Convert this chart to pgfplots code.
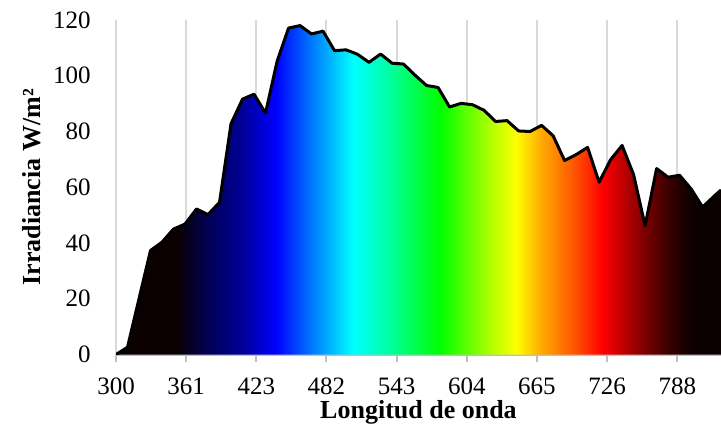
\documentclass[border=0pt]{standalone}
\usepackage{fontspec}
\setmainfont{Liberation Serif}
\usepackage{pgfplots}
\pgfplotsset{compat=1.18}
\definecolor{gridgray}{HTML}{D9D9D9}
\definecolor{axgray}{HTML}{BFBFBF}
\pgfdeclarehorizontalshading{spectrum}{100bp}{%
rgb(0bp)=(0.04,0,0);
rgb(25bp)=(0.04,0,0);
rgb(29.96bp)=(0.04,0,0);
rgb(33.26bp)=(0,0,0.40);
rgb(35.33bp)=(0,0,0.58);
rgb(38.22bp)=(0,0,1);
rgb(40.70bp)=(0,0.40,1);
rgb(44.59bp)=(0,1,1);
rgb(47.31bp)=(0,1,0.67);
rgb(51.78bp)=(0,1,0);
rgb(55.58bp)=(0.63,1,0);
rgb(58.06bp)=(1,1,0);
rgb(60.12bp)=(1,0.67,0);
rgb(63.02bp)=(1,0.31,0);
rgb(65.17bp)=(1,0,0);
rgb(66.65bp)=(0.78,0,0);
rgb(68.55bp)=(0.50,0,0);
rgb(70.54bp)=(0.24,0,0);
rgb(72.19bp)=(0.08,0,0);
rgb(73.00bp)=(0.04,0,0);
rgb(75bp)=(0.04,0,0);
rgb(100bp)=(0.04,0,0)}
\begin{document}
\begin{tikzpicture}
\begin{axis}[
  scale only axis,
  width=302.5pt, height=167.25pt,
  xmin=0, xmax=52.6, ymin=0, ymax=120,
  enlargelimits=false,
  axis y line*=left, axis x line*=bottom,
  y axis line style={draw=none},
  x axis line style={draw=axgray, line width=1pt},
  xtick={0,6.1,12.2,18.3,24.4,30.5,36.6,42.7,48.8},
  xticklabels={300,361,423,482,543,604,665,726,788},
  ytick={0,20,40,60,80,100,120},
  xmajorgrids,
  major grid style={draw=gridgray, line width=1pt},
  ytick style={draw=none},
  xtick style={draw=axgray, line width=1pt},
  xtick align=outside,
  major tick length=3.5pt,
  /pgf/number format/assume math mode=true,
  tick label style={font=\fontsize{12.5}{14}\selectfont},
  yticklabel style={anchor=east, inner sep=0pt, xshift=-12.5pt},
  xticklabel style={anchor=north, inner sep=0pt, yshift=-8pt},
  xlabel={Longitud de onda},
  ylabel={Irradiancia W/m²},
  label style={font=\fontsize{13}{15}\selectfont\bfseries},
  xlabel style={at={(axis description cs:0.5,0)}, anchor=north, inner sep=0pt, yshift=-23pt},
  ylabel style={at={([xshift=-42pt]axis description cs:0,0.5)}, anchor=center, inner sep=0pt},
  clip=true,
]
\addplot[draw=none, shade, shading=spectrum] coordinates {
(0,0) (1,2.6) (2,20) (3,37.3) (4,40.3) (5,45) (6,46.8) (7,52.2) (8,50.2) (9,54.6)
(10,82.8) (11,91.6) (12,93.4) (13,86.6) (14,105.1) (15,117.1) (16,118) (17,115) (18,116) (19,109)
(20,109.3) (21,107.7) (22,104.8) (23,107.8) (24,104.5) (25,104.2) (26,100.2) (27,96.5) (28,95.8) (29,88.8)
(30,90.1) (31,89.6) (32,87.6) (33,83.6) (34,83.9) (35,80.2) (36,80) (37,82.2) (38,78.5) (39,69.6)
(40,71.7) (41,74.3) (42,61.8) (43,69.9) (44,75) (45,64.5) (46,46.2) (47,66.7) (48,63.6) (49,64.3)
(50,59.4) (51,52.9) (52,56.8) (52.6,59)
} \closedcycle;
\addplot[black, line width=1.5pt, line join=round] coordinates {
(0,0) (1,2.6) (2,20) (3,37.3) (4,40.3) (5,45) (6,46.8) (7,52.2) (8,50.2) (9,54.6)
(10,82.8) (11,91.6) (12,93.4) (13,86.6) (14,105.1) (15,117.1) (16,118) (17,115) (18,116) (19,109)
(20,109.3) (21,107.7) (22,104.8) (23,107.8) (24,104.5) (25,104.2) (26,100.2) (27,96.5) (28,95.8) (29,88.8)
(30,90.1) (31,89.6) (32,87.6) (33,83.6) (34,83.9) (35,80.2) (36,80) (37,82.2) (38,78.5) (39,69.6)
(40,71.7) (41,74.3) (42,61.8) (43,69.9) (44,75) (45,64.5) (46,46.2) (47,66.7) (48,63.6) (49,64.3)
(50,59.4) (51,52.9) (52,56.8) (52.6,59)
};
\end{axis}
\pgfresetboundingbox
\path (-58pt,-34.25pt) rectangle (302.5pt,177.25pt);
\end{tikzpicture}
\end{document}
